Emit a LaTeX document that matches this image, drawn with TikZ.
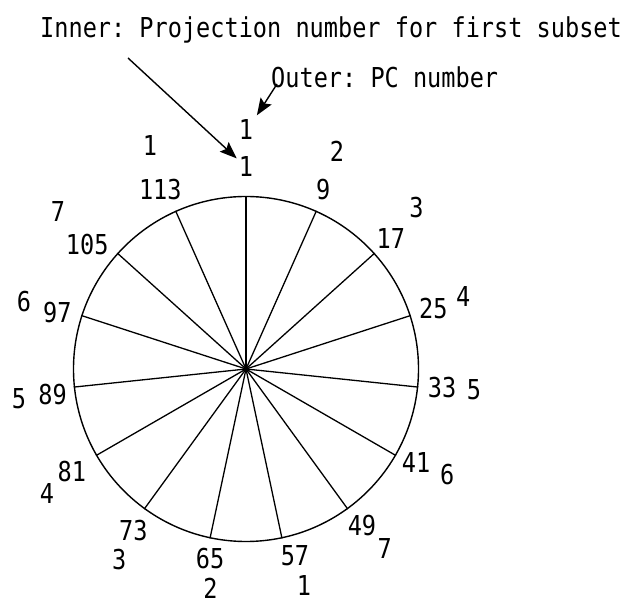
\documentclass[tikz,border=0pt]{standalone}
\usepackage{fontspec}
\setmonofont[FakeStretch=0.86]{DejaVu Sans Mono}
\usetikzlibrary{arrows.meta}

\begin{document}
\begin{tikzpicture}[
    x=1pt,y=1pt,
    lbl/.style={font=\ttfamily\fontsize{27.4}{30}\selectfont,inner sep=2pt},
    wheel/.style={circle,draw,line width=1.4pt,minimum size=345pt,inner sep=0pt},
    spoke/.style={line width=1.3pt},
    arrow/.style={-{Stealth[length=17pt,width=13pt,inset=3pt]},line width=1.4pt}
  ]
  \useasboundingbox (-246,-235) rectangle (382,369);
  \node[wheel] (wheel) at (0,0) {};
  % spoke / inner radius, shift / outer radius, shift
  \foreach \k/\ri/\ai/\ro/\ao in {0/202/0/239/0, 1/195/0.7/236/1.3, 2/195/0/235/1.5,
      3/197/0/229/0.4, 4/197/0.5/229/0.7, 5/194/1.3/227/2.4, 6/195/0.5/227/1.7,
      7/193/2.7/224/3, 8/193/1.3/222/2.8, 9/197/1.1/229/2.4, 10/202/0.4/235/2.1,
      11/195/1.4/229/1.5, 12/197/1.2/232/1.2, 13/202/3.8/245/2.1, 14/199/1.5/243/-0.7}{
    \pgfmathtruncatemacro{\a}{mod(450-24*\k,360)}
    \pgfmathtruncatemacro{\proj}{1+8*\k}
    \pgfmathtruncatemacro{\pc}{mod(\k,7)+1}
    \draw[spoke] (wheel.center) -- (wheel.\a);
    \node[lbl] (in\k) at (\a+\ai:\ri) {\proj};
    \node[lbl] (pc\k) at (\a+\ao:\ro) {\pc};
  }
  \node[lbl,anchor=base west] (innerkey) at (-208,331) {Inner: Projection number for first subset};
  \node[lbl,anchor=base west] (outerkey) at (23,281) {Outer: PC number};
  \coordinate (innertail) at (-118,311);
  \coordinate (outertail) at (31,285);
  \draw[arrow] (innertail) -- (in0);
  \draw[arrow,shorten >=3pt] (outertail) -- (pc0.north east);
\end{tikzpicture}
\end{document}
